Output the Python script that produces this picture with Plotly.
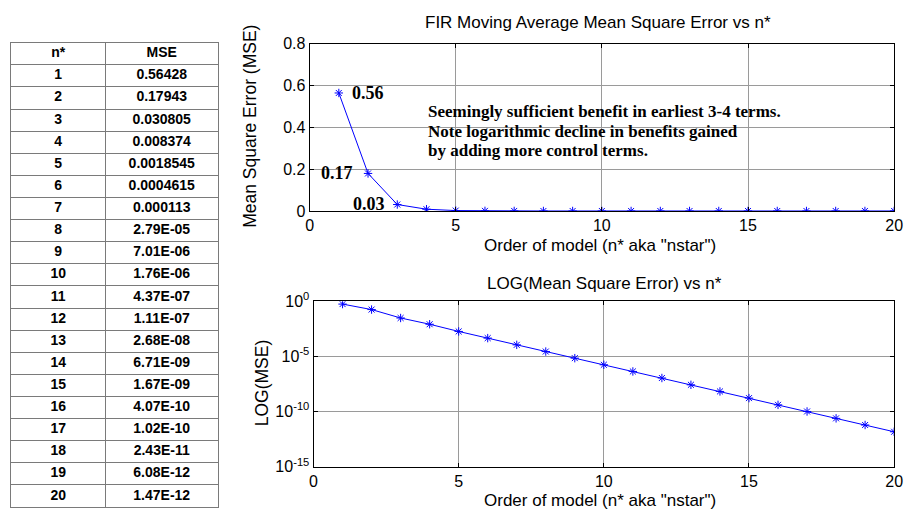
import plotly.graph_objects as go

n_vals = list(range(1, 21))
mse_text = ["0.56428", "0.17943", "0.030805", "0.008374", "0.0018545", "0.0004615",
            "0.000113", "2.79E-05", "7.01E-06", "1.76E-06", "4.37E-07", "1.11E-07",
            "2.68E-08", "6.71E-09", "1.67E-09", "4.07E-10", "1.02E-10", "2.43E-11",
            "6.08E-12", "1.47E-12"]
mse_vals = [float(s) for s in mse_text]
table_header = ["n*", "MSE"]
point_labels = {1: "0.56", 2: "0.17", 3: "0.03"}
note_lines = ["Seemingly sufficient benefit in earliest 3-4 terms.",
              "Note logarithmic decline in benefits gained",
              "by adding more control terms."]
note_y = [0.474, 0.382, 0.290]
lin_ticks = [0, 0.2, 0.4, 0.6, 0.8]
lin_tick_text = ["0", "0.2", "0.4", "0.6", "0.8"]
x_ticks = [0, 5, 10, 15, 20]
log_tick_vals = [1, 1e-5, 1e-10, 1e-15]
log_tick_text = ["10<sup>0</sup>", "10<sup>-5</sup>", "10<sup>-10</sup>", "10<sup>-15</sup>"]

W, H = 913, 518
def px(x): return x / W
def py(y): return 1 - y / H

SANS = "Liberation Sans, Arial"
SERIF = "Liberation Serif, Times New Roman"

fig = go.Figure()

# ---- table drawn on its own axes (rows = 0..20 with header at row 0) ----
n_rows = len(n_vals) + 1
col1_w, col2_w = 96, 114
row_centers = [i + 0.5 for i in range(n_rows)]
col1_text = ["<b>%s</b>" % table_header[0]] + ["<b>%d</b>" % n for n in n_vals]
col2_text = ["<b>%s</b>" % table_header[1]] + ["<b>%s</b>" % s for s in mse_text]
fig.add_trace(go.Scatter(x=[col1_w / 2] * n_rows, y=row_centers, text=col1_text, mode="text",
                         textfont=dict(family=SANS, size=14, color="black"),
                         xaxis="x3", yaxis="y3", showlegend=False, hoverinfo="skip"))
fig.add_trace(go.Scatter(x=[col1_w + col2_w / 2] * n_rows, y=row_centers, text=col2_text, mode="text",
                         textfont=dict(family=SANS, size=14, color="black"),
                         xaxis="x3", yaxis="y3", showlegend=False, hoverinfo="skip"))

marker = dict(symbol="asterisk-open", size=7, color="#0000ff", line=dict(color="#0000ff", width=1))
fig.add_trace(go.Scatter(x=n_vals, y=mse_vals, mode="lines+markers",
                         line=dict(color="#0000ff", width=1), marker=marker,
                         xaxis="x", yaxis="y", showlegend=False))
fig.add_trace(go.Scatter(x=n_vals, y=mse_vals, mode="lines+markers",
                         line=dict(color="#0000ff", width=1), marker=marker,
                         xaxis="x2", yaxis="y2", showlegend=False))

axis_common = dict(showline=True, linecolor="black", linewidth=1, mirror="ticks",
                   ticks="inside", ticklen=4, tickcolor="black",
                   showgrid=True, gridcolor="#9a9a9a", gridwidth=1, zeroline=False,
                   tickfont=dict(family=SANS, size=16, color="black"))
x_common = dict(ticklabelstandoff=0)

table_axis = dict(showline=True, linecolor="#7a7a7a", linewidth=1, mirror=True,
                  ticks="", showticklabels=False, showgrid=True, gridcolor="#7a7a7a",
                  gridwidth=1, zeroline=False, fixedrange=True)

fig.update_layout(
    width=W, height=H, margin=dict(l=0, r=0, t=0, b=0),
    paper_bgcolor="white", plot_bgcolor="white",
    xaxis=dict(domain=[px(310), px(903)], anchor="y", range=[0, 20], tickvals=x_ticks,
               **axis_common, **x_common),
    yaxis=dict(domain=[py(208), py(34)], anchor="x", range=[0, 0.8], tickvals=lin_ticks,
               ticktext=lin_tick_text, **axis_common),
    xaxis2=dict(domain=[px(314), px(903)], anchor="y2", range=[0, 20], tickvals=x_ticks,
                **axis_common, **x_common),
    yaxis2=dict(domain=[py(474), py(302)], anchor="x2", type="log", range=[-15, 0],
                tickvals=log_tick_vals, ticktext=log_tick_text, **axis_common),
    xaxis3=dict(domain=[px(7), px(217)], anchor="y3", range=[0, col1_w + col2_w],
                tickvals=[col1_w], **table_axis),
    yaxis3=dict(domain=[py(516), py(33)], anchor="x3", range=[n_rows, 0],
                tickvals=list(range(n_rows + 1)), **table_axis),
)

ann = []
def txt(text, x, y, size=17, angle=0):
    ann.append(dict(text=text, x=px(x), y=py(y), xref="paper", yref="paper", showarrow=False,
                    xanchor="center", yanchor="middle", textangle=angle,
                    font=dict(family=SANS, size=size, color="black")))

txt("FIR Moving Average Mean Square Error vs n*", 603, 12)
txt("LOG(Mean Square Error) vs n*", 609, 283)
txt('Order of model (n* aka "nstar")', 605, 244)
txt('Order of model (n* aka "nstar")', 605, 509)
txt("Mean Square Error (MSE)", 250, 120, size=17.5, angle=-90)
txt("LOG(MSE)", 262, 387, size=17.5, angle=-90)

lab = dict(family=SERIF, size=18, color="black")
ann.append(dict(text="<b>%s</b>" % point_labels[1], x=1.38, y=mse_vals[0], xref="x", yref="y",
                showarrow=False, xanchor="left", yanchor="middle", font=lab))
ann.append(dict(text="<b>%s</b>" % point_labels[2], x=1.55, y=mse_vals[1], xref="x", yref="y",
                showarrow=False, xanchor="right", yanchor="middle", font=lab))
ann.append(dict(text="<b>%s</b>" % point_labels[3], x=2.66, y=0.032, xref="x", yref="y",
                showarrow=False, xanchor="right", yanchor="middle", font=lab))
for line, yv in zip(note_lines, note_y):
    ann.append(dict(text="<b>%s</b>" % line, x=4.0, y=yv, xref="x", yref="y",
                    showarrow=False, xanchor="left", yanchor="middle",
                    font=dict(family=SERIF, size=17, color="black")))
fig.update_layout(annotations=ann)

fig.write_html("out.html")
